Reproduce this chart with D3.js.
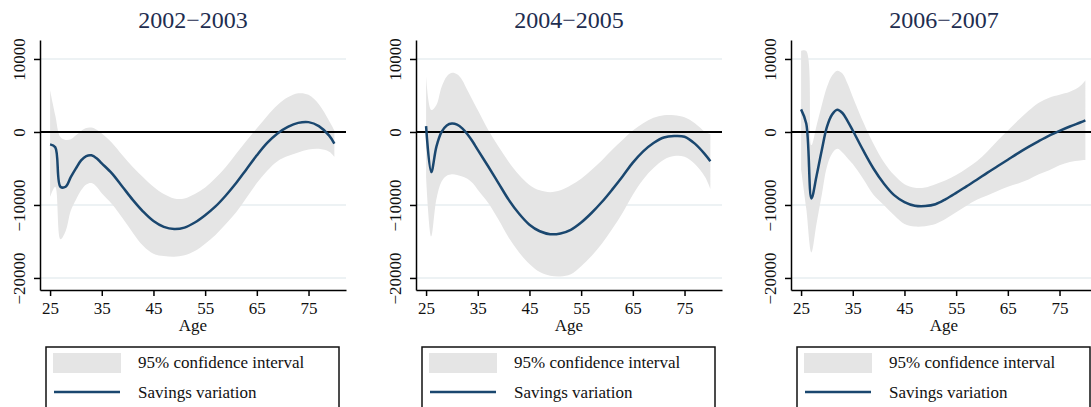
<!DOCTYPE html>
<html>
<head>
<meta charset="utf-8">
<script src="https://cdn.jsdelivr.net/npm/d3@7"></script>
<style>
body { margin: 0; background: #fff; }
text { font-family: "Liberation Serif", "DejaVu Serif", serif; }
</style>
</head>
<body>
<div id="chart"></div>
<script>
let ages = [25, 26, 27, 28, 29, 30, 31, 32, 33, 34, 35, 37, 39, 41, 43, 45, 47, 49, 51, 53,
            55, 57, 59, 61, 63, 65, 67, 69, 71, 73, 75, 77, 79, 80];

let titles = ["2002\u22122003", "2004\u22122005", "2006\u22122007"];
let xTicks = [25, 35, 45, 55, 65, 75];
let yTicks = [10000, 0, -10000, -20000];
let legendLabels = ["95% confidence interval", "Savings variation"];

// 2002-2003
let mean0203 = [-1700, -2100, -7500, -7500, -6200, -5000, -3900, -3300, -3200, -3600, -4300, -5700, -7500, -9300, -10900, -12200, -13000, -13300, -13100, -12400,
                -11400, -10200, -8700, -7000, -5100, -3200, -1500, -200, 700, 1250, 1350, 800, -500, -1600];
let upper0203 = [5700, 2300, -700, -1100, -1000, -450, 150, 550, 600, 300, -200, -1500, -3200, -4800, -6200, -7500, -8500, -9100, -9100, -8500,
                 -7600, -6300, -4800, -3000, -1200, 500, 2200, 3700, 4750, 5300, 5100, 3800, 1500, 200];
let lower0203 = [-8900, -7500, -14700, -13600, -10800, -9300, -8000, -7200, -7000, -7500, -8400, -9900, -11800, -13800, -15600, -16700, -17000, -17100, -16900, -16300,
                 -15300, -14100, -12600, -11000, -9000, -7000, -5300, -4000, -3300, -2800, -2400, -2300, -2700, -3400];

// 2004-2005
let mean0405 = [800, -5500, -2000, 0, 900, 1150, 1000, 500, -300, -1300, -2450, -4700, -7000, -9300, -11200, -12700, -13600, -14000, -13900, -13400,
                -12400, -11100, -9600, -7900, -6100, -4200, -2650, -1500, -750, -550, -650, -1600, -3100, -4000];
let upper0405 = [7700, 3000, 3700, 6150, 7600, 8100, 7900, 7100, 5700, 4350, 3000, 300, -2000, -4100, -5900, -7250, -8000, -8250, -8000, -7300,
                 -6400, -5200, -3900, -2450, -1100, 200, 1200, 1950, 2300, 2300, 2000, 1200, 0, -300];
let lower0405 = [-6100, -14300, -9200, -6800, -6000, -5800, -5900, -6100, -6400, -7000, -7900, -9700, -12000, -14500, -16500, -18100, -19200, -19700, -19800, -19500,
                 -18400, -17000, -15300, -13300, -11100, -8600, -6500, -4950, -3800, -3300, -3400, -4400, -6200, -7800];

// 2006-2007
let mean0607 = [3100, 1150, -9100, -6000, -2500, 700, 2400, 3050, 2600, 1500, 200, -2500, -5000, -7050, -8650, -9600, -10100, -10150, -9900, -9200,
                -8350, -7450, -6550, -5600, -4700, -3800, -2900, -2050, -1250, -500, 150, 750, 1300, 1600];
let upper0607 = [11100, 11100, -1800, 900, 3650, 6150, 7750, 8400, 8000, 6600, 4800, 1400, -1600, -4100, -5900, -7150, -7650, -7600, -7150, -6600,
                 -5900, -5000, -4000, -2700, -1200, 200, 1600, 2900, 4000, 4700, 5100, 5500, 6300, 7100];
let lower0607 = [-5100, -10500, -16500, -12500, -8650, -4750, -2950, -2300, -2800, -3600, -4400, -6400, -8600, -10000, -11400, -12600, -12950, -12900, -12600, -11900,
                 -11000, -10100, -9300, -8700, -8100, -7500, -7050, -6500, -5800, -5250, -4550, -4100, -3900, -3850];

let panels = [
    {left: 40, title: titles[0], mean: mean0203, lower: lower0203, upper: upper0203},
    {left: 416, title: titles[1], mean: mean0405, lower: lower0405, upper: upper0405},
    {left: 791, title: titles[2], mean: mean0607, lower: lower0607, upper: upper0607}
];

let bandColor = "#e5e5e5",
    lineColor = "#1a476f",
    gridColor = "#e7eef0";

let plotWidth = 306, plotTop = 40, plotBottom = 290;

let svg = d3.select("#chart").append("svg")
    .attr("width", 1091)
    .attr("height", 407);

// Same scales for every panel, each panel is shifted with a transform
let x = d3.scaleLinear().domain([23.05, 82.25]).range([0, plotWidth]);
let y = d3.scaleLinear().domain([-21650, 12600]).range([plotBottom, plotTop]);

let curve = d3.curveCatmullRom.alpha(0.5);
let fmt = function(d) { return d < 0 ? "\u2212" + Math.abs(d) : String(d); };

panels.forEach(function(p) {
    let g = svg.append("g").attr("transform", "translate(" + p.left + ",0)");
    let rows = ages.map(function(a, i) {
        return {age: a, mean: p.mean[i], lo: p.lower[i], hi: p.upper[i]};
    });

    // Gridlines
    g.selectAll(".grid")
        .data(yTicks.filter(function(d) { return d !== 0; }))
        .enter().append("line")
        .attr("x1", 0).attr("x2", plotWidth)
        .attr("y1", function(d) { return y(d); })
        .attr("y2", function(d) { return y(d); })
        .attr("stroke", gridColor)
        .attr("stroke-width", 1.5);

    // Confidence band
    g.append("path")
        .datum(rows)
        .attr("fill", bandColor)
        .attr("d", d3.area()
            .x(function(d) { return x(d.age); })
            .y0(function(d) { return y(d.lo); })
            .y1(function(d) { return y(d.hi); })
            .curve(curve));

    // Zero line
    g.append("line")
        .attr("x1", 0).attr("x2", plotWidth)
        .attr("y1", y(0)).attr("y2", y(0))
        .attr("stroke", "#000")
        .attr("stroke-width", 2);

    // Savings variation
    g.append("path")
        .datum(rows)
        .attr("fill", "none")
        .attr("stroke", lineColor)
        .attr("stroke-width", 2.5)
        .attr("stroke-linejoin", "round")
        .attr("d", d3.line()
            .x(function(d) { return x(d.age); })
            .y(function(d) { return y(d.mean); })
            .curve(curve));

    // Y axis with rotated labels
    let yAxis = g.append("g")
        .call(d3.axisLeft(y).tickValues(yTicks).tickSize(6).tickSizeOuter(0).tickFormat(fmt));
    yAxis.select(".domain").attr("stroke-width", 1.5);
    yAxis.selectAll(".tick line").attr("stroke-width", 1.5);
    yAxis.selectAll("text")
        .attr("transform", "rotate(-90)")
        .attr("x", 0)
        .attr("y", -15)
        .attr("dy", 0)
        .style("text-anchor", "middle")
        .style("font-size", "17px")
        .style("font-family", "'Liberation Serif', serif")
        .attr("fill", "#111");

    // X axis
    let xAxis = g.append("g")
        .attr("transform", "translate(0," + plotBottom + ")")
        .call(d3.axisBottom(x).tickValues(xTicks).tickSize(6).tickSizeOuter(0).tickPadding(6));
    xAxis.select(".domain").attr("stroke-width", 1.5);
    xAxis.selectAll(".tick line").attr("stroke-width", 1.5);
    xAxis.selectAll("text")
        .style("font-size", "17px")
        .style("font-family", "'Liberation Serif', serif")
        .attr("fill", "#111");

    g.append("text")
        .attr("x", plotWidth / 2)
        .attr("y", 331)
        .attr("text-anchor", "middle")
        .style("font-size", "17px")
        .attr("fill", "#111")
        .text("Age");

    // Title
    g.append("text")
        .attr("x", plotWidth / 2)
        .attr("y", 28)
        .attr("text-anchor", "middle")
        .style("font-size", "24px")
        .attr("fill", "#1e2d50")
        .text(p.title);

    // Legend
    let leg = g.append("g").attr("transform", "translate(6,347)");
    leg.append("rect")
        .attr("x", 0).attr("y", 0)
        .attr("width", 293).attr("height", 80)
        .attr("fill", "#fff")
        .attr("stroke", "#111")
        .attr("stroke-width", 1.5);
    leg.append("rect")
        .attr("x", 7).attr("y", 6)
        .attr("width", 68).attr("height", 20)
        .attr("fill", bandColor);
    leg.append("line")
        .attr("x1", 8).attr("x2", 74)
        .attr("y1", 45).attr("y2", 45)
        .attr("stroke", lineColor)
        .attr("stroke-width", 2.5);
    leg.selectAll(".lab")
        .data(legendLabels)
        .enter().append("text")
        .attr("x", 92)
        .attr("y", function(d, i) { return 21 + i * 30; })
        .style("font-size", "17px")
        .attr("fill", "#111")
        .text(function(d) { return d; });
});
</script>
</body>
</html>
